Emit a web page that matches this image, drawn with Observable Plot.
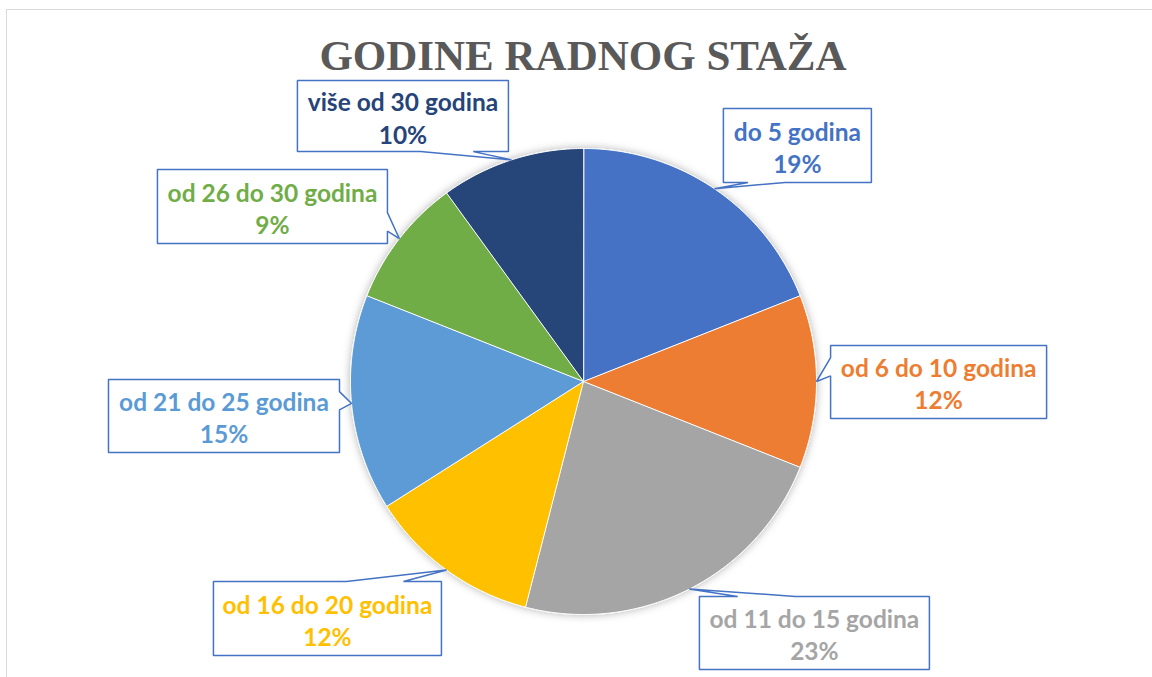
<!DOCTYPE html>
<html>
<head>
<meta charset="utf-8">
<script src="https://cdn.jsdelivr.net/npm/d3@7"></script>
<script src="https://cdn.jsdelivr.net/npm/@observablehq/plot@0.6"></script>
<style>
  html, body { margin: 0; padding: 0; background: #fff; }
  #wrap { position: relative; width: 1152px; height: 677px; overflow: hidden; }
  #title { box-sizing: border-box; height: 78px; padding-top: 34px; padding-left: 14px; text-align: center;
           font-family: "Liberation Serif", "Times New Roman", serif; font-weight: bold; font-size: 43px;
           line-height: 1; color: #595959; white-space: nowrap; }
  #border { position: absolute; left: 6px; top: 9px; width: 2000px; height: 2000px;
            border-left: 1.5px solid #D9D9D9; border-top: 1.5px solid #D9D9D9; pointer-events: none; }
  #chart svg { display: block; }
</style>
</head>
<body>
<div id="wrap">
  <div id="title">GODINE RADNOG STAŽA</div>
  <div id="chart"></div>
  <div id="border"></div>
</div>
<script>
// ---- data ----
const categories = ["do 5 godina", "od 6 do 10 godina", "od 11 do 15 godina", "od 16 do 20 godina",
                    "od 21 do 25 godina", "od 26 do 30 godina", "više od 30 godina"];
const shares = [19, 12, 23, 12, 15, 9, 10];
const percentLabels = ["19%", "12%", "23%", "12%", "15%", "9%", "10%"];
const colors = ["#4472C4", "#ED7D31", "#A5A5A5", "#FFC000", "#5B9BD5", "#70AD47", "#264478"];

// ---- layout (pie radius units; callout boxes centres and pixel sizes) ----
const R = 233;               // pie radius in px
const W = 1152, H = 599;
const CX = 583, CY = 303;    // pie centre in svg px
const boxCenters = [[0.918, 1.013], [1.524, -0.002], [0.991, -1.079], [-1.099, -1.017],
                    [-1.543, -0.148], [-1.335, 0.751], [-0.775, 1.139]];
const boxSizes = [[148, 74], [216, 73], [230, 73], [228, 74], [231, 73], [230, 74], [211, 71]];

// ---- pie geometry from data ----
const arcs = d3.pie().sort(null).value(d => d).startAngle(0).endAngle(2 * Math.PI)(shares);
const sliceRows = [];
arcs.forEach((a, i) => {
  const cat = categories[i];
  sliceRows.push({cat, x: 0, y: 0});
  const n = Math.max(4, Math.ceil((a.endAngle - a.startAngle) / (Math.PI / 360)));
  for (let k = 0; k <= n; k++) {
    const t = a.startAngle + (a.endAngle - a.startAngle) * k / n;
    sliceRows.push({cat, x: Math.sin(t), y: Math.cos(t)});
  }
});

// ---- callouts (wedge rectangle callouts pointing to slice mid-angle on the rim) ----
const calloutRows = [];
const labelRows = [];
arcs.forEach((a, i) => {
  const mid = (a.startAngle + a.endAngle) / 2;
  const tx = Math.sin(mid) * R, ty = -Math.cos(mid) * R;
  const cx = boxCenters[i][0] * R, cy = -boxCenters[i][1] * R;
  const [w, h] = boxSizes[i];
  const l = cx - w / 2, r = cx + w / 2, t = cy - h / 2, b = cy + h / 2;
  const dx = tx - cx, dy = ty - cy;
  const horiz = Math.abs(dx) * h > Math.abs(dy) * w;
  const pts = [];
  const fx = dx > 0 ? [7 / 12, 10 / 12] : [2 / 12, 5 / 12];
  const fy = dy > 0 ? [7 / 12, 10 / 12] : [2 / 12, 5 / 12];
  pts.push([l, t]);
  if (!horiz && dy < 0) { pts.push([l + fx[0] * w, t], [tx, ty], [l + fx[1] * w, t]); }
  pts.push([r, t]);
  if (horiz && dx > 0) { pts.push([r, t + fy[0] * h], [tx, ty], [r, t + fy[1] * h]); }
  pts.push([r, b]);
  if (!horiz && dy >= 0) { pts.push([l + fx[1] * w, b], [tx, ty], [l + fx[0] * w, b]); }
  pts.push([l, b]);
  if (horiz && dx <= 0) { pts.push([l, t + fy[1] * h], [tx, ty], [l, t + fy[0] * h]); }
  pts.forEach(([px, py]) => calloutRows.push({i, x: px / R, y: -py / R}));
  labelRows.push({cat: categories[i], x: cx / R, y: -(cy + 1) / R, text: categories[i] + "\n" + percentLabels[i]});
});

const chart = Plot.plot({
  width: W, height: H,
  margin: 0,
  x: {domain: [-CX / R, (W - CX) / R], axis: null},
  y: {domain: [-(H - CY) / R, CY / R], axis: null},
  color: {domain: categories, range: colors},
  marks: [
    Plot.line(sliceRows, {x: "x", y: "y", z: "cat", fill: "cat", stroke: "white", strokeWidth: 1,
                          curve: "linear-closed"}),
    Plot.line(calloutRows, {x: "x", y: "y", z: "i", fill: "white", stroke: "#4472C4", strokeWidth: 1.5,
                            curve: "linear-closed", strokeLinejoin: "miter"}),
    Plot.text(labelRows, {x: "x", y: "y", text: "text", fill: "cat", fontSize: 24.5, fontWeight: "bold",
                          fontFamily: "Lato, 'Open Sans', sans-serif", lineHeight: 1.32,
                          lineAnchor: "middle", textAnchor: "middle"})
  ]
});

// soft shadow around the pie
const ns = "http://www.w3.org/2000/svg";
const defs = document.createElementNS(ns, "defs");
defs.innerHTML = '<filter id="pieShadow" x="-20%" y="-20%" width="140%" height="140%">' +
  '<feDropShadow dx="0" dy="0" stdDeviation="4" flood-color="#000" flood-opacity="0.3"/></filter>';
chart.insertBefore(defs, chart.firstChild);
const pieG = chart.querySelector('g[aria-label="line"]');
if (pieG) pieG.setAttribute("filter", "url(#pieShadow)");

document.getElementById("chart").appendChild(chart);
</script>
</body>
</html>
